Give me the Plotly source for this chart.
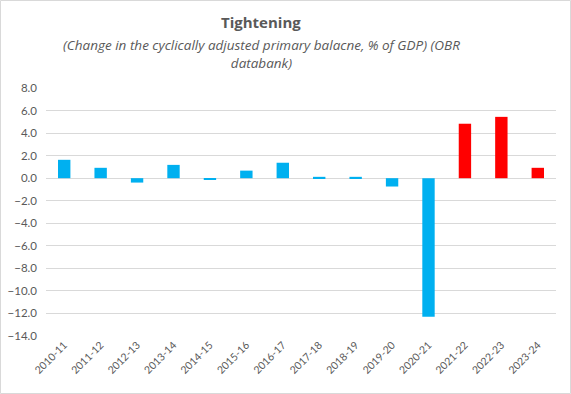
import plotly.graph_objects as go

categories = ["2010-11", "2011-12", "2012-13", "2013-14", "2014-15", "2015-16", "2016-17",
              "2017-18", "2018-19", "2019-20", "2020-21", "2021-22", "2022-23", "2023-24"]
values = [1.63, 0.92, -0.39, 1.18, -0.12, 0.67, 1.37, 0.12, 0.12, -0.74, -12.3, 4.83, 5.44, 0.92]
bar_colors = ["#00B0F0"] * 11 + ["#FF0000"] * 3
y_ticks = [8, 6, 4, 2, 0, -2, -4, -6, -8, -10, -12, -14]

L, R, T, B = 46, 15, 88, 58
W, H = 571, 394
pw, ph = W - L - R, H - T - B

fig = go.Figure(go.Bar(x=categories, y=values, marker_color=bar_colors,
                       marker_line_width=0))

fig.update_layout(
    width=W, height=H,
    margin=dict(l=L, r=R, t=T, b=B, autoexpand=False),
    plot_bgcolor="white", paper_bgcolor="white",
    bargap=0.66,
    showlegend=False,
    font=dict(family="Lato", color="#595959"),
)
fig.update_xaxes(type="category", tickangle=-45, tickfont=dict(size=10.5, color="#595959"),
                 showgrid=False, showline=False, ticks="", automargin=False)
fig.update_yaxes(range=[-14, 8], tickvals=y_ticks, tickformat=".1f",
                 showgrid=True, gridcolor="#D9D9D9", gridwidth=1,
                 zeroline=True, zerolinecolor="#D9D9D9", zerolinewidth=1,
                 tickfont=dict(size=11.5, color="#595959"), ticks="", ticklabelstandoff=8,
                 automargin=False)

def py(px):
    return 1 - (px - T) / ph

def pxx(px):
    return (px - L) / pw

fig.add_annotation(text="<b>Tightening</b>", x=pxx(261), y=py(22), xref="paper", yref="paper",
                   showarrow=False, font=dict(size=15, color="#595959", family="Open Sans"),
                   xanchor="center", yanchor="middle")
fig.add_annotation(text="<i>(Change in the cyclically adjusted primary balacne, % of GDP) (OBR<br>databank)</i>",
                   x=pxx(261), y=py(54), xref="paper", yref="paper",
                   showarrow=False, font=dict(size=13.5, color="#595959", family="Open Sans"),
                   xanchor="center", yanchor="middle", align="center")
fig.add_shape(type="rect", xref="paper", yref="paper",
              x0=pxx(0.5), x1=pxx(W - 0.5), y0=py(H - 0.5), y1=py(0.5),
              line=dict(color="#D9D9D9", width=1))

fig.write_html("out.html", config={"displayModeBar": False},
               post_script="document.body.style.margin='0';document.body.style.overflow='hidden';")
